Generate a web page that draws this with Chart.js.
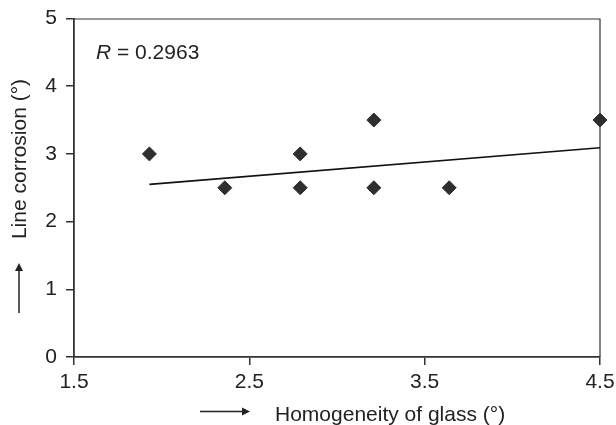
<!DOCTYPE html>
<html>
<head>
<meta charset="utf-8">
<script src="https://cdn.jsdelivr.net/npm/chart.js@4.4.1/dist/chart.umd.min.js"></script>
<style>
  html, body { margin: 0; padding: 0; background: #fff; }
  #wrap { width: 616px; height: 425px; position: relative; }
</style>
</head>
<body>
<div id="wrap"><canvas id="c" width="616" height="425"></canvas></div>
<script>
// ---- data ----
const homogeneity = [1.93, 2.36, 2.79, 2.79, 3.21, 3.21, 3.64, 4.5];
const corrosion   = [3.0, 2.5, 3.0, 2.5, 3.5, 2.5, 2.5, 3.5];
const trendX = [1.93, 4.5];
const trendY = [2.55, 3.09];
const xTickValues = [1.5, 2.5, 3.5, 4.5];
const yTickValues = [0, 1, 2, 3, 4, 5];
const xTitle = 'Homogeneity of glass (°)';
const yTitle = 'Line corrosion (°)';
const rLabel = 'R';
const rValue = ' = 0.2963';

const FONT = '"Liberation Sans", Arial, sans-serif';
const FS = 21;
const AXIS = '#333333';

const scatterPts = homogeneity.map((x, i) => ({ x, y: corrosion[i] }));
const trendPts = trendX.map((x, i) => ({ x, y: trendY[i] }));

const decor = {
  id: 'decor',
  beforeDatasetsDraw(chart) {
    const { ctx, chartArea: a } = chart;
    ctx.save();
    ctx.strokeStyle = AXIS;
    ctx.lineWidth = 1.2;
    ctx.beginPath();
    ctx.moveTo(a.left, a.top + 0.5);
    ctx.lineTo(a.right, a.top + 0.5);
    ctx.lineTo(a.right, a.bottom);
    ctx.stroke();
    ctx.restore();
  },
  afterDraw(chart) {
    const { ctx } = chart;
    ctx.save();
    ctx.fillStyle = '#222';
    ctx.strokeStyle = '#222';
    ctx.lineWidth = 1.5;
    // R annotation
    ctx.font = 'italic ' + FS + 'px ' + FONT;
    ctx.textBaseline = 'alphabetic';
    ctx.textAlign = 'left';
    ctx.fillText(rLabel, 96, 59);
    const w = ctx.measureText(rLabel).width;
    ctx.font = FS + 'px ' + FONT;
    ctx.fillText(rValue, 96 + w, 59);

    // x title + arrow
    ctx.font = FS + 'px ' + FONT;
    ctx.textBaseline = 'alphabetic';
    ctx.textAlign = 'left';
    ctx.fillText(xTitle, 275, 421);
    ctx.beginPath();
    ctx.moveTo(200, 411.5); ctx.lineTo(243, 411.5); ctx.stroke();
    ctx.beginPath();
    ctx.moveTo(250, 411.5); ctx.lineTo(242, 407.5); ctx.lineTo(242, 415.5); ctx.closePath(); ctx.fill();

    // y title + arrow
    ctx.save();
    ctx.translate(26, 159);
    ctx.rotate(-Math.PI / 2);
    ctx.textAlign = 'center';
    ctx.textBaseline = 'alphabetic';
    ctx.fillText(yTitle, 0, 0);
    ctx.restore();
    ctx.beginPath();
    ctx.moveTo(19, 313); ctx.lineTo(19, 270); ctx.stroke();
    ctx.beginPath();
    ctx.moveTo(19, 263); ctx.lineTo(15, 271); ctx.lineTo(23, 271); ctx.closePath(); ctx.fill();
    ctx.restore();
  }
};

new Chart(document.getElementById('c'), {
  type: 'scatter',
  data: {
    datasets: [
      {
        type: 'line',
        data: trendPts,
        borderColor: '#111',
        borderWidth: 1.6,
        pointRadius: 0,
        fill: false,
        order: 2
      },
      {
        data: scatterPts,
        pointStyle: 'rectRot',
        pointRadius: 7,
        pointHoverRadius: 7,
        backgroundColor: '#2e2e2e',
        borderColor: '#2e2e2e',
        borderWidth: 1,
        clip: false,
        order: 1
      }
    ]
  },
  options: {
    responsive: false,
    animation: false,
    devicePixelRatio: 1,
    layout: { padding: { top: 18.5, right: 16, left: 0, bottom: 0 } },
    plugins: { legend: { display: false }, tooltip: { enabled: false } },
    scales: {
      x: {
        type: 'linear',
        min: 1.5, max: 4.5,
        afterBuildTicks: s => { s.ticks = xTickValues.map(v => ({ value: v })); },
        afterFit: s => { s.height = 68; s.paddingLeft = 0; s.paddingRight = 0; },
        border: { color: AXIS, width: 1.8 },
        grid: { drawOnChartArea: false, drawTicks: true, tickLength: 8, color: AXIS, lineWidth: 1.5 },
        ticks: { color: '#222', font: { family: FONT, size: FS }, padding: 5, maxRotation: 0,
                 callback: v => v.toFixed(1) }
      },
      y: {
        type: 'linear',
        min: 0, max: 5,
        afterBuildTicks: s => { s.ticks = yTickValues.map(v => ({ value: v })); },
        afterFit: s => { s.width = 74; s.paddingTop = 0; s.paddingBottom = 0; },
        border: { color: AXIS, width: 1.8 },
        grid: { drawOnChartArea: false, drawTicks: true, tickLength: 8, color: AXIS, lineWidth: 1.5 },
        ticks: { color: '#222', font: { family: FONT, size: FS }, padding: 9,
                 callback: v => String(v) }
      }
    }
  },
  plugins: [decor]
});
</script>
</body>
</html>
